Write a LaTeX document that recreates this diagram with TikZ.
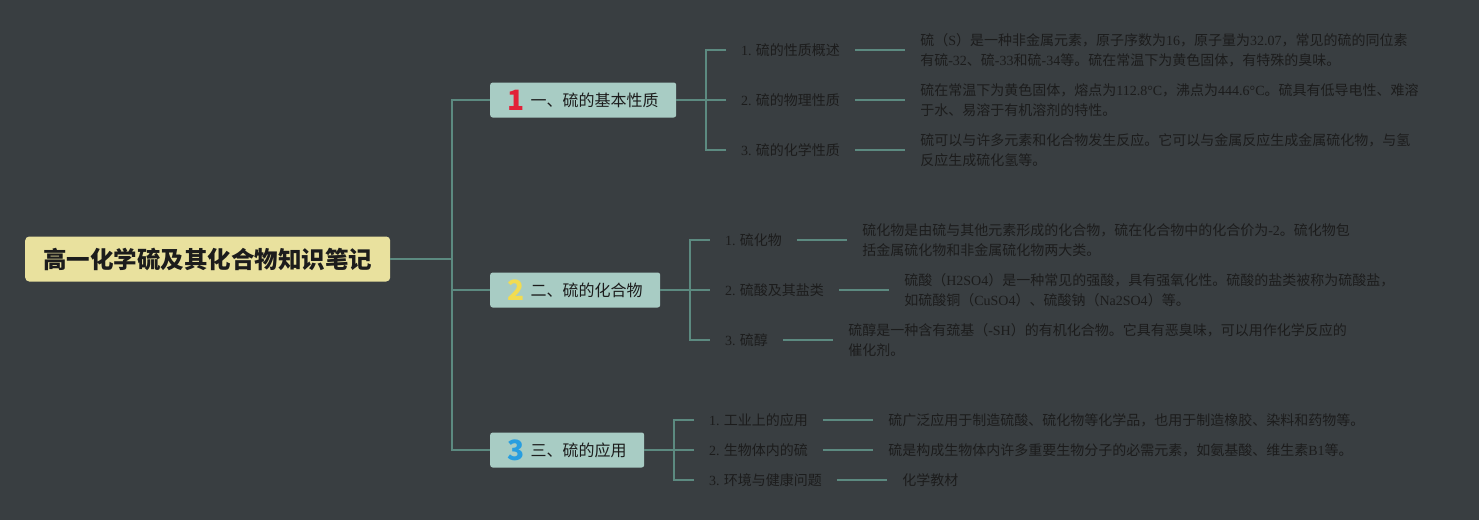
\documentclass[tikz,border=0pt]{standalone}
\usepackage{fontspec}
\setmainfont{Noto Sans CJK SC}
\newfontfamily\serifl{Liberation Serif}
\newcommand\LS[1]{{\serifl #1}}
\definecolor{bg}{RGB}{57,62,65}
\definecolor{linec}{RGB}{92,138,128}
\definecolor{rootc}{RGB}{233,225,158}
\definecolor{boxc}{RGB}{168,204,196}
\definecolor{txt}{RGB}{28,28,28}
\definecolor{nred}{RGB}{226,32,56}
\definecolor{nyel}{RGB}{242,220,80}
\definecolor{nblu}{RGB}{40,158,224}
\newcommand\bnum[2]{\raisebox{-4pt}{\fontsize{28}{28}\selectfont\bfseries\color{#1}#2}\hspace{6pt}}
\begin{document}
\begin{tikzpicture}[x=1pt,y=-1pt,
  conn/.style={draw=linec, line width=1.5pt},
  rootbox/.style={fill=rootc, rounded corners=4pt, minimum width=365pt, minimum height=45pt,
    font=\fontsize{23.5}{23.5}\selectfont\bfseries, text=txt, anchor=west, inner sep=0pt},
  branchbox/.style={fill=boxc, rounded corners=2.5pt, minimum height=35pt,
    font=\fontsize{16}{16}\selectfont, text=txt, anchor=west, inner sep=0pt},
  subnode/.style={font=\fontsize{14}{20}\selectfont, text=txt, anchor=west, inner xsep=15pt, inner ysep=0pt},
  descnode/.style={subnode, align=left}]
\fill[bg] (0,0) rectangle (1479,520);
\useasboundingbox (0,0) rectangle (1479,520);

% root
\node[rootbox] (root) at (25,259) {高一化学硫及其化合物知识笔记};

% branches
\node[branchbox, minimum width=186pt] (b1) at (490,100) {\bnum{nred}{1}一、硫的基本性质};
\node[branchbox, minimum width=170pt] (b2) at (490,290) {\bnum{nyel}{2}二、硫的化合物};
\node[branchbox, minimum width=154pt] (b3) at (490,450) {\bnum{nblu}{3}三、硫的应用};

\coordinate (t0) at (452,259);
\draw[conn] (root.east) -- (t0);
\draw[conn] (t0) |- (b1.west);
\draw[conn] (t0) |- (b2.west);
\draw[conn] (t0) |- (b3.west);

% branch 1
\node[subnode] (s11) at (726,50) {\LS{1.} 硫的性质概述};
\node[subnode] (s12) at (726,100) {\LS{2.} 硫的物理性质};
\node[subnode] (s13) at (726,150) {\LS{3.} 硫的化学性质};
\coordinate (j1) at (706,100);
\draw[conn] (b1.east) -- (j1);
\draw[conn] (j1) |- (s11.west);
\draw[conn] (j1) -- (s12.west);
\draw[conn] (j1) |- (s13.west);
\node[descnode] (d11) at (s11.east) [xshift=50pt] {硫（\LS{S}）是一种非金属元素，原子序数为\LS{16}，原子量为\LS{32.07}，常见的硫的同位素\\有硫\LS{-32}、硫\LS{-33}和硫\LS{-34}等。硫在常温下为黄色固体，有特殊的臭味。};
\node[descnode] (d12) at (s12.east) [xshift=50pt] {硫在常温下为黄色固体，熔点为\LS{112.8°C}，沸点为\LS{444.6°C}。硫具有低导电性、难溶\\于水、易溶于有机溶剂的特性。};
\node[descnode] (d13) at (s13.east) [xshift=50pt] {硫可以与许多元素和化合物发生反应。它可以与金属反应生成金属硫化物，与氢\\反应生成硫化氢等。};
\draw[conn] (s11.east) -- (d11.west);
\draw[conn] (s12.east) -- (d12.west);
\draw[conn] (s13.east) -- (d13.west);

% branch 2
\node[subnode] (s21) at (710,240) {\LS{1.} 硫化物};
\node[subnode] (s22) at (710,290) {\LS{2.} 硫酸及其盐类};
\node[subnode] (s23) at (710,340) {\LS{3.} 硫醇};
\coordinate (j2) at (690,290);
\draw[conn] (b2.east) -- (j2);
\draw[conn] (j2) |- (s21.west);
\draw[conn] (j2) -- (s22.west);
\draw[conn] (j2) |- (s23.west);
\node[descnode] (d21) at (s21.east) [xshift=50pt] {硫化物是由硫与其他元素形成的化合物，硫在化合物中的化合价为\LS{-2}。硫化物包\\括金属硫化物和非金属硫化物两大类。};
\node[descnode] (d22) at (s22.east) [xshift=50pt] {硫酸（\LS{H2SO4}）是一种常见的强酸，具有强氧化性。硫酸的盐类被称为硫酸盐，\\如硫酸铜（\LS{CuSO4}）、硫酸钠（\LS{Na2SO4}）等。};
\node[descnode] (d23) at (s23.east) [xshift=50pt] {硫醇是一种含有巯基（\LS{-SH}）的有机化合物。它具有恶臭味，可以用作化学反应的\\催化剂。};
\draw[conn] (s21.east) -- (d21.west);
\draw[conn] (s22.east) -- (d22.west);
\draw[conn] (s23.east) -- (d23.west);

% branch 3
\node[subnode] (s31) at (694,420) {\LS{1.} 工业上的应用};
\node[subnode] (s32) at (694,450) {\LS{2.} 生物体内的硫};
\node[subnode] (s33) at (694,480) {\LS{3.} 环境与健康问题};
\coordinate (j3) at (674,450);
\draw[conn] (b3.east) -- (j3);
\draw[conn] (j3) |- (s31.west);
\draw[conn] (j3) -- (s32.west);
\draw[conn] (j3) |- (s33.west);
\node[descnode] (d31) at (s31.east) [xshift=50pt] {硫广泛应用于制造硫酸、硫化物等化学品，也用于制造橡胶、染料和药物等。};
\node[descnode] (d32) at (s32.east) [xshift=50pt] {硫是构成生物体内许多重要生物分子的必需元素，如氨基酸、维生素\LS{B1}等。};
\node[descnode] (d33) at (s33.east) [xshift=50pt] {化学教材};
\draw[conn] (s31.east) -- (d31.west);
\draw[conn] (s32.east) -- (d32.west);
\draw[conn] (s33.east) -- (d33.west);
\end{tikzpicture}
\end{document}
